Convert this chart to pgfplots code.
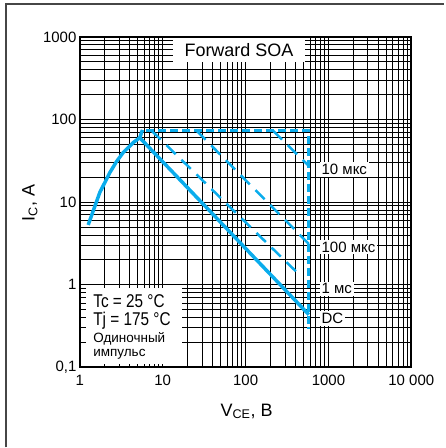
\documentclass[border=0pt]{standalone}
\usepackage{fontspec}
\setmainfont{Liberation Sans}
\newfontfamily\narrowsans[FakeStretch=0.83]{Liberation Sans}
\usepackage{pgfplots}
\pgfplotsset{compat=1.18}

\definecolor{soa}{RGB}{10,172,236}
\definecolor{framegray}{RGB}{70,70,70}

\begin{document}
\begin{tikzpicture}
\path (-80pt,-80pt) rectangle (365pt,368pt);
\begin{axis}[
  at={(0,0)}, anchor=south west,
  scale only axis, width=332pt, height=331pt,
  xmode=log, ymode=log,
  xmin=1, xmax=10000, ymin=0.1, ymax=1000,
  xtick={1,10,100,1000,10000},
  xticklabels={1,10,100,1000,10 000},
  ytick={0.1,1,10,100,1000},
  yticklabels={{0,1},1,10,100,1000},
  grid=both,
  major grid style={black, line width=1.1pt},
  minor grid style={black, line width=1.0pt},
  axis line style={black, line width=1.8pt},
  tick style={black, line width=1.0pt},
  major tick length=5pt, minor tick length=5pt,
  tick label style={font=\fontsize{15}{15}\selectfont},
  xticklabel style={yshift=-4pt},
  xlabel={V\textsubscript{CE}, B},
  ylabel={I\textsubscript{C}, A},
  label style={font=\fontsize{18}{18}\selectfont},
  xlabel style={at={(axis description cs:0.503,-0.133)}, anchor=center},
  ylabel style={at={(axis description cs:-0.151,0.498)}, anchor=center},
]
% safe operating area boundaries
\addplot[soa, line width=3.5pt, line join=round] coordinates {
  (1.26,5.3) (1.74,13.1) (2.3,22.8) (2.77,31) (3.32,39.7) (4.39,52.4) (5.28,60.3) (5.7,75)};
\addplot[soa, line width=3.5pt] coordinates {(5.28,60.3) (580,0.435)};
\addplot[soa, line width=3pt, dash pattern=on 8pt off 4pt] coordinates {
  (6.36,73.7) (580,73.7) (580,0.295)};
\addplot[soa, line width=2.5pt, dash pattern=on 13pt off 8pt] coordinates {(213,73.7) (580,27.4)};
\addplot[soa, line width=2.5pt, dash pattern=on 13pt off 8pt] coordinates {(25.5,73.7) (580,3.12)};
\addplot[soa, line width=2.5pt, dash pattern=on 13pt off 8pt] coordinates {(7.3,73.7) (447,1.32)};

% labels
\node[anchor=north, fill=white, minimum width=133pt, minimum height=24pt, inner sep=0pt,
  font=\fontsize{18}{18}\selectfont] at ([yshift=-1.2pt]rel axis cs:0.48,1) {Forward SOA};
\node[anchor=west, fill=white, inner sep=2pt, font=\fontsize{15}{15}\selectfont] at (axis cs:779,25) {10 мкс};
\node[anchor=west, fill=white, inner sep=2pt, font=\fontsize{15}{15}\selectfont] at (axis cs:779,2.87) {100 мкс};
\node[anchor=west, fill=white, inner sep=2pt, font=\fontsize{15}{15}\selectfont] at (axis cs:779,0.895) {1 мс};
\node[anchor=west, fill=white, inner sep=2pt, font=\fontsize{15}{15}\selectfont] at (axis cs:779,0.39) {DC};

\fill[white] (rel axis cs:0.018,0.009) rectangle (rel axis cs:0.307,0.239);
\node[anchor=base west, inner sep=0pt, font=\narrowsans\fontsize{18.5}{18.5}\selectfont] at (rel axis cs:0.040,0.180) {Tc = 25 °C};
\node[anchor=base west, inner sep=0pt, font=\narrowsans\fontsize{18.5}{18.5}\selectfont] at (rel axis cs:0.040,0.127) {Tj = 175 °C};
\node[anchor=base west, inner sep=0pt, font=\fontsize{13.5}{13.5}\selectfont] at (rel axis cs:0.040,0.075) {Одиночный};
\node[anchor=base west, inner sep=0pt, font=\fontsize{13.5}{13.5}\selectfont] at (rel axis cs:0.040,0.034) {импульс};
\end{axis}
\draw[framegray, line width=1.5pt] (-74pt,-80pt) -- (-74pt,364pt) -- (365pt,364pt);
\end{tikzpicture}
\end{document}
